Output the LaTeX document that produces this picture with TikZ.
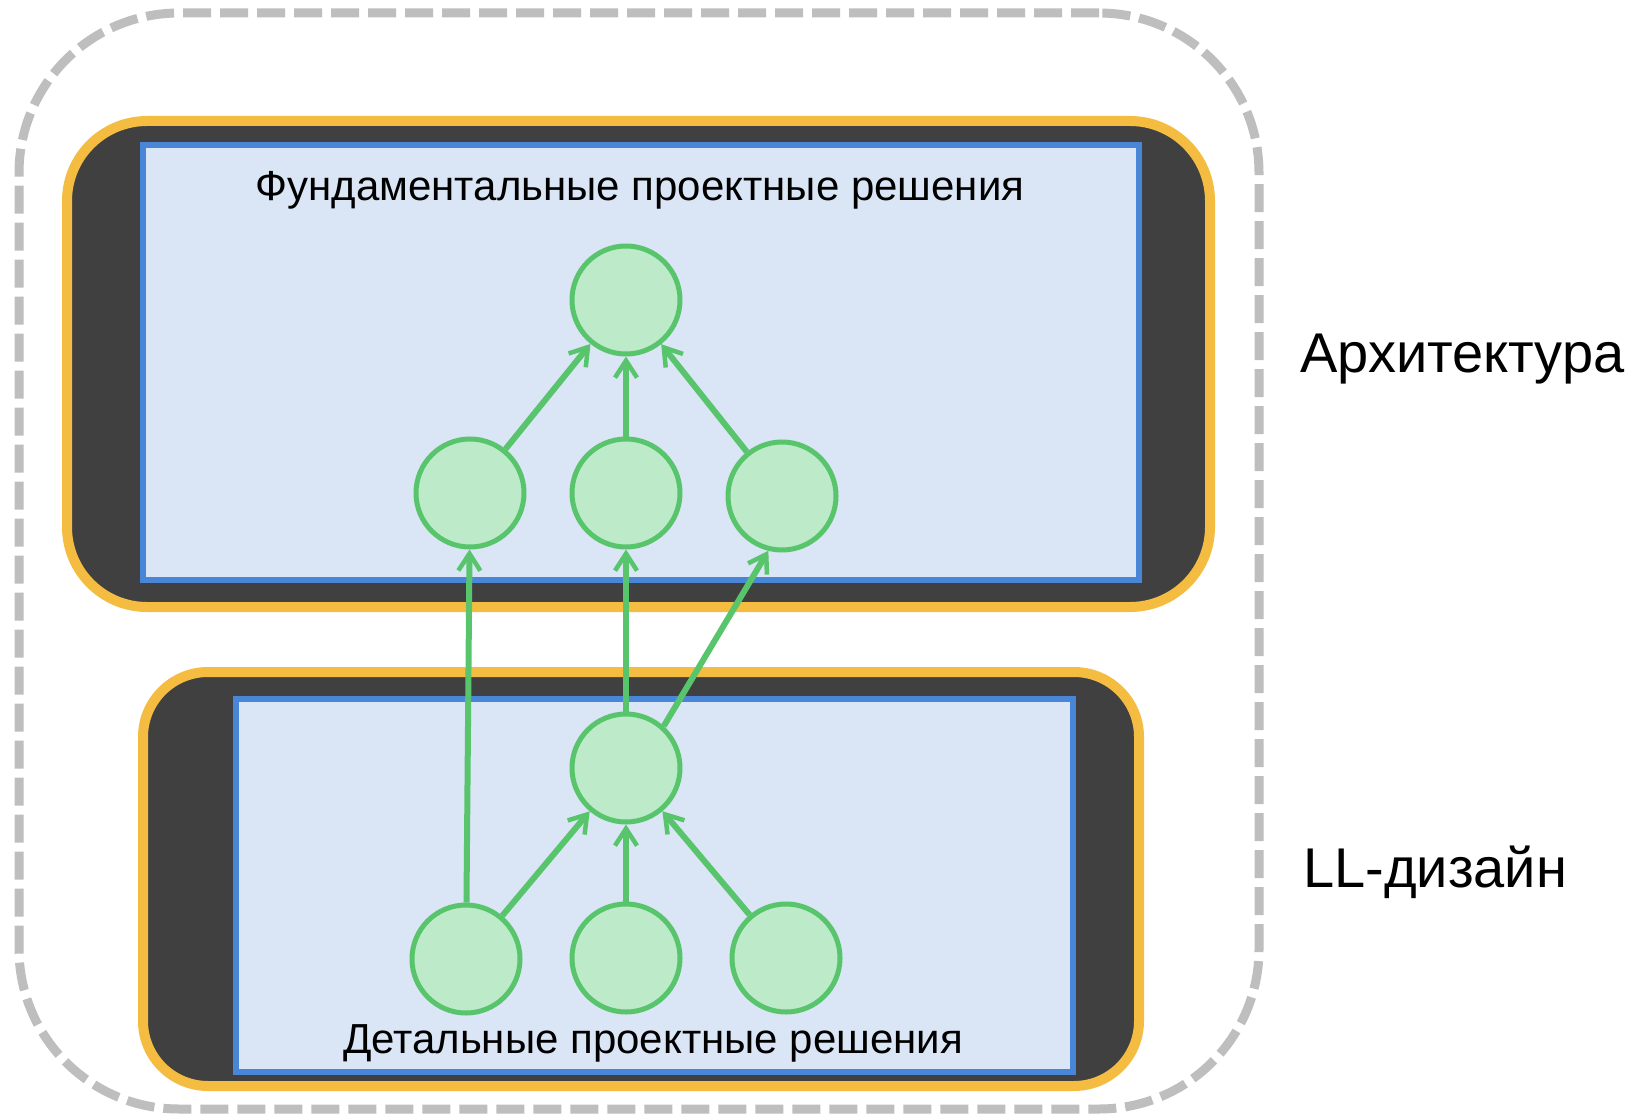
\documentclass[tikz,border=0pt]{standalone}
\usepackage{fontspec}
\setmainfont{Liberation Sans}
\usetikzlibrary{arrows.meta}

\definecolor{framegray}{HTML}{BEBEBE}
\definecolor{layerorange}{HTML}{F4BD42}
\definecolor{layerdark}{HTML}{404040}
\definecolor{panelblue}{HTML}{4A86D8}
\definecolor{panelfill}{HTML}{DAE5F5}
\definecolor{nodegreen}{HTML}{58C46C}
\definecolor{nodefill}{HTML}{BDEBC9}

\tikzset{
  outerframe/.style={draw=framegray, line width=9pt, dash pattern=on 28pt off 9pt,
    rounded corners=160pt, inner sep=0pt},
  layerbox/.style={draw=layerorange, fill=layerdark, line width=10pt, inner sep=0pt},
  panelbox/.style={draw=panelblue, fill=panelfill, line width=6pt, inner sep=0pt},
  gnode/.style={circle, draw=nodegreen, fill=nodefill, line width=5pt,
    minimum size=108pt, inner sep=0pt},
  edge/.style={draw=nodegreen, line width=6pt,
    -{Straight Barb[length=17pt, width=22pt, line width=4.5pt]}},
  paneltext/.style={font=\fontsize{42}{50}\selectfont, inner sep=0pt},
  sidetext/.style={font=\fontsize{56}{66}\selectfont, inner sep=0pt, anchor=base west}
}

\begin{document}
\begin{tikzpicture}[x=1pt, y=-1pt]
\useasboundingbox (0,0) rectangle (1638,1118);
\fill[white] (0,0) rectangle (1638,1118);

% enclosing dashed frame
\node[outerframe, minimum width=1240pt, minimum height=1096pt] (frame) at (639,561) {};

% upper layer: fundamental design decisions
\node[layerbox, rounded corners=80pt, minimum width=1143pt, minimum height=486pt] (archlayer) at (638.5,364) {};
\node[panelbox, minimum width=996pt, minimum height=435pt] (archpanel) at (641,362.5) {};
\node[paneltext, anchor=base] (archtitle) at (640,201) {Фундаментальные проектные решения};

% lower layer: detailed design decisions
\node[layerbox, rounded corners=65pt, minimum width=996pt, minimum height=414pt] (lllayer) at (641,879) {};
\node[panelbox, minimum width=837pt, minimum height=373pt] (llpanel) at (654.5,885.5) {};
\node[paneltext, anchor=base] (lltitle) at (653,1053) {Детальные проектные решения};

% side labels
\node[sidetext] (archlabel) at (1300,372) {Архитектура};
\node[sidetext] (lllabel) at (1303,887) {LL-дизайн};

% decision nodes
\node[gnode] (top) at (626,300) {};
\node[gnode] (ml) at (470,493) {};
\node[gnode] (mc) at (626,493) {};
\node[gnode] (mr) at (782,496) {};
\node[gnode] (lm) at (626,768) {};
\node[gnode] (bl) at (466,959) {};
\node[gnode] (bc) at (626,958) {};
\node[gnode] (br) at (786,958) {};

% dependencies
\draw[edge] (ml) -- (top);
\draw[edge] (mc) -- (top);
\draw[edge] (mr) -- (top);
\draw[edge] (bl) -- (ml);
\draw[edge] (lm) -- (mc);
\draw[edge] (lm.48) -- (mr.-104);
\draw[edge] (bl) -- (lm);
\draw[edge] (bc) -- (lm);
\draw[edge] (br) -- (lm);
\end{tikzpicture}
\end{document}
